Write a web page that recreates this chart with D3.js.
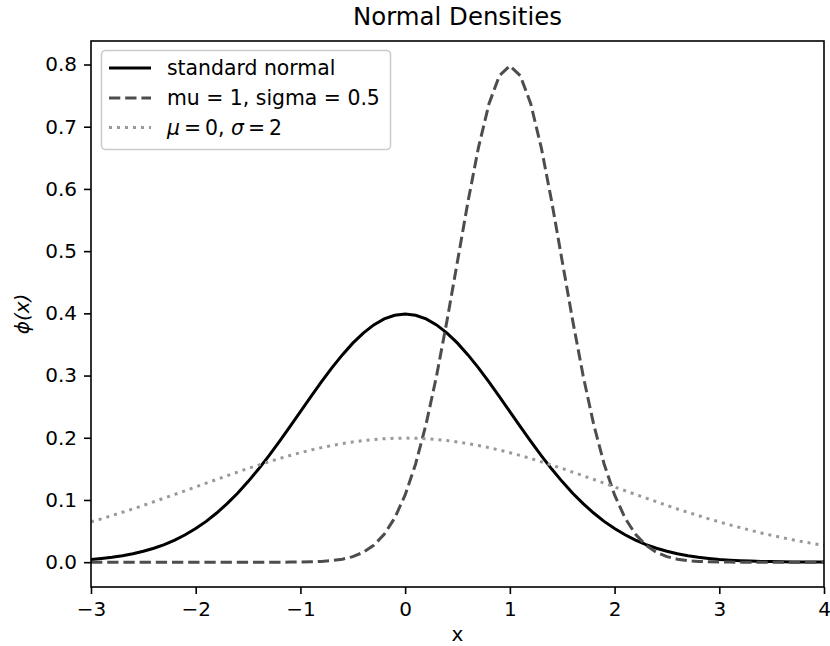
<!DOCTYPE html>
<html><head><meta charset="utf-8">
<script src="https://cdn.jsdelivr.net/npm/d3@7"></script>
<style>body{margin:0;background:#fff}svg{display:block;font-family:"DejaVu Sans",sans-serif}</style>
</head><body><svg id="c" width="830" height="646"></svg>
<script>
const xValues = [-3.0,-2.9,-2.8,-2.7,-2.6,-2.5,-2.4,-2.3,-2.2,-2.1,-2.0,-1.9,-1.8,-1.7,-1.6,-1.5,-1.4,-1.3,-1.2,-1.1,-1.0,-0.9,-0.8,-0.7,-0.6,-0.5,-0.4,-0.3,-0.2,-0.1,0.0,0.1,0.2,0.3,0.4,0.5,0.6,0.7,0.8,0.9,1.0,1.1,1.2,1.3,1.4,1.5,1.6,1.7,1.8,1.9,2.0,2.1,2.2,2.3,2.4,2.5,2.6,2.7,2.8,2.9,3.0,3.1,3.2,3.3,3.4,3.5,3.6,3.7,3.8,3.9,4.0];
const standardNormal = [0.0044,0.0060,0.0079,0.0104,0.0136,0.0175,0.0224,0.0283,0.0355,0.0440,0.0540,0.0656,0.0790,0.0941,0.1109,0.1295,0.1497,0.1714,0.1942,0.2179,0.2420,0.2661,0.2897,0.3123,0.3332,0.3521,0.3683,0.3814,0.3910,0.3970,0.3989,0.3970,0.3910,0.3814,0.3683,0.3521,0.3332,0.3123,0.2897,0.2661,0.2420,0.2179,0.1942,0.1714,0.1497,0.1295,0.1109,0.0941,0.0790,0.0656,0.0540,0.0440,0.0355,0.0283,0.0224,0.0175,0.0136,0.0104,0.0079,0.0060,0.0044,0.0033,0.0024,0.0017,0.0012,0.0009,0.0006,0.0004,0.0003,0.0002,0.0001];
const muOneSigmaHalf = [0,0,0,0,0,0,0,0,0,0,0,0,0,0,0,0,0,0,0,0.0001,0.0003,0.0006,0.0012,0.0025,0.0048,0.0089,0.0158,0.0272,0.0448,0.0709,0.1080,0.1579,0.2218,0.2995,0.3884,0.4839,0.5794,0.6664,0.7365,0.7821,0.7979,0.7821,0.7365,0.6664,0.5794,0.4839,0.3884,0.2995,0.2218,0.1579,0.1080,0.0709,0.0448,0.0272,0.0158,0.0089,0.0048,0.0025,0.0012,0.0006,0.0003,0.0001,0,0,0,0,0,0,0,0,0];
const muZeroSigmaTwo = [0.0648,0.0697,0.0749,0.0802,0.0857,0.0913,0.0971,0.1030,0.1089,0.1149,0.1210,0.1270,0.1330,0.1390,0.1448,0.1506,0.1561,0.1615,0.1666,0.1715,0.1760,0.1803,0.1841,0.1876,0.1907,0.1933,0.1955,0.1972,0.1985,0.1992,0.1995,0.1992,0.1985,0.1972,0.1955,0.1933,0.1907,0.1876,0.1841,0.1803,0.1760,0.1715,0.1666,0.1615,0.1561,0.1506,0.1448,0.1390,0.1330,0.1270,0.1210,0.1149,0.1089,0.1030,0.0971,0.0913,0.0855,0.0802,0.0749,0.0697,0.0648,0.0600,0.0555,0.0511,0.0470,0.0431,0.0395,0.0360,0.0328,0.0298,0.0270];
const xTicks = [-3,-2,-1,0,1,2,3,4];
const yTicks = [0.0,0.1,0.2,0.3,0.4,0.5,0.6,0.7,0.8];
const seriesNames = ["standard normal","mu = 1, sigma = 0.5","μ = 0, σ = 2"];

const svg = d3.select("#c");
const L = 91, R = 824, T = 41, B = 587;
const x = d3.scaleLinear().domain([-3, 4]).range([L, R]);
const y = d3.scaleLinear().domain([-0.0399, 0.8378]).range([B, T]);

const styles = [
  {color:"#000000", dash:null},
  {color:"#4d4d4d", dash:"11.3,4.9"},
  {color:"#999999", dash:"3,5"}
];
const series = [standardNormal, muOneSigmaHalf, muZeroSigmaTwo];

svg.append("defs").append("clipPath").attr("id","pa").append("rect")
  .attr("x", L).attr("y", T).attr("width", R-L).attr("height", B-T);

const line = d3.line().x((d,i)=>x(xValues[i])).y(d=>y(d));
const g = svg.append("g").attr("clip-path","url(#pa)");
series.forEach((s,k)=>{
  g.append("path").datum(s).attr("d", line).attr("fill","none")
   .attr("stroke", styles[k].color).attr("stroke-width", 3)
   .attr("stroke-dasharray", styles[k].dash);
});

// axes
const xa = svg.append("g").attr("transform",`translate(0,${B})`)
  .call(d3.axisBottom(x).tickValues(xTicks).tickFormat(d3.format("d")).tickSize(7).tickPadding(7));
const ya = svg.append("g").attr("transform",`translate(${L},0)`)
  .call(d3.axisLeft(y).tickValues(yTicks).tickFormat(d3.format(".1f")).tickSize(7).tickPadding(7));
[xa, ya].forEach(a=>{
  a.select(".domain").remove();
  a.selectAll("text").attr("font-size", 20).attr("fill","#000").attr("font-family","DejaVu Sans");
  a.selectAll("line").attr("stroke","#000").attr("stroke-width",1.6);
});
xa.selectAll("text").attr("dy","0.76em");
// spines
svg.append("rect").attr("x",L).attr("y",T).attr("width",R-L).attr("height",B-T)
  .attr("fill","none").attr("stroke","#000").attr("stroke-width",1.6);

// title and labels
svg.append("text").attr("x",(L+R)/2).attr("y",25).attr("text-anchor","middle")
  .attr("font-size",24.4).text("Normal Densities");
svg.append("text").attr("x",(L+R)/2).attr("y",641).attr("text-anchor","middle")
  .attr("font-size",20).text("x");
svg.append("text").attr("transform",`translate(29,${(T+B)/2}) rotate(-90)`).attr("text-anchor","middle")
  .attr("font-size",20).attr("font-style","italic").text("ϕ(x)");

// legend
const lg = svg.append("g");
lg.append("rect").attr("x",101.5).attr("y",50.5).attr("width",289).attr("height",99).attr("rx",4)
  .attr("fill","#fff").attr("fill-opacity",0.8).attr("stroke","#cccccc").attr("stroke-width",1.6);
const rowsY = [68, 98, 127.5];
seriesNames.forEach((n,k)=>{
  lg.append("line").attr("x1",109).attr("x2",151).attr("y1",rowsY[k]).attr("y2",rowsY[k])
    .attr("stroke",styles[k].color).attr("stroke-width",3).attr("stroke-dasharray",styles[k].dash);
  const t = lg.append("text").attr("x",167).attr("y",rowsY[k]).attr("dy","0.35em").attr("font-size",20.4);
  if (k < 2) t.text(n);
  else {
    t.append("tspan").attr("font-style","italic").text("μ");
    t.append("tspan").attr("dx",4).text("=");
    t.append("tspan").attr("dx",4).text("0, ");
    t.append("tspan").attr("font-style","italic").text("σ");
    t.append("tspan").attr("dx",4).text("=");
    t.append("tspan").attr("dx",4).text("2");
  }
});
</script></body></html>
